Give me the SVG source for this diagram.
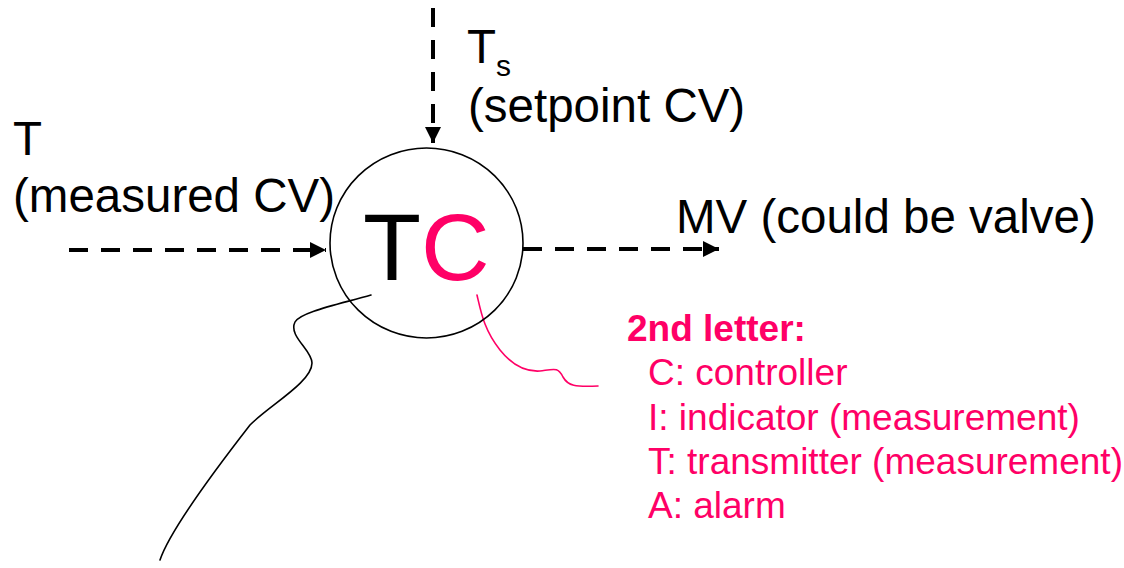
<svg xmlns="http://www.w3.org/2000/svg" width="1124" height="568" viewBox="0 0 1124 568">
<style>
text { font-family: "Liberation Sans", Arial, sans-serif; }
.lbl { font-size: 47.5px; fill: #000; }
.pk { font-size: 37px; fill: #FF0066; }
.dash { stroke: #000; stroke-width: 4; stroke-dasharray: 19 13; fill: none; }
.wire { fill: none; stroke-width: 1.6; stroke-linecap: round; }
</style>
<defs>
<marker id="ah" markerUnits="userSpaceOnUse" markerWidth="16" markerHeight="16" viewBox="0 0 16 16" refX="16" refY="8" orient="auto">
<path d="M0,0 L16,8 L0,16 Z" fill="#000"/>
</marker>
</defs>
<rect width="1124" height="568" fill="#fff"/>
<g id="connectors">
<line class="dash" x1="433" y1="8" x2="433" y2="143" marker-end="url(#ah)"/>
<line class="dash" x1="69" y1="250" x2="326" y2="250" marker-end="url(#ah)"/>
<line class="dash" x1="523" y1="249" x2="719" y2="249" marker-end="url(#ah)"/>
<path class="wire" stroke="#000" d="M371,295 C340,304 300,312 295,322 C288,336 312,350 312,363 C312,382 270,405 250,425 C215,470 170,530 160,560"/>
<path class="wire" stroke="#FF0066" d="M477,295 C481,312 484,330 500,350 C512,365 525,372 540,371 C555,369 558,367 563,377 C568,386 575,387 598,386"/>
</g>
<g id="node-tc">
<ellipse cx="426.5" cy="243" rx="96.5" ry="95" fill="none" stroke="#000" stroke-width="1.6"/>
<text x="363" y="280" style="font-size:95px"><tspan fill="#000">T</tspan><tspan fill="#FF0066">C</tspan></text>
</g>
<g id="label-setpoint">
<text class="lbl" x="467" y="63">T</text>
<text x="496" y="76" style="font-size:30px">s</text>
<text class="lbl" x="468" y="122">(setpoint CV)</text>
</g>
<g id="label-measured">
<text class="lbl" x="13" y="155">T</text>
<text class="lbl" x="13" y="212">(measured CV)</text>
</g>
<g id="label-mv">
<text class="lbl" x="676" y="233">MV (could be valve)</text>
</g>
<g id="legend">
<text class="pk" x="627" y="341" font-weight="bold">2nd letter:</text>
<text class="pk" x="648" y="385">C: controller</text>
<text class="pk" x="648" y="430">I: indicator (measurement)</text>
<text class="pk" x="648" y="474">T: transmitter (measurement)</text>
<text class="pk" x="648" y="518">A: alarm</text>
</g>
</svg>
